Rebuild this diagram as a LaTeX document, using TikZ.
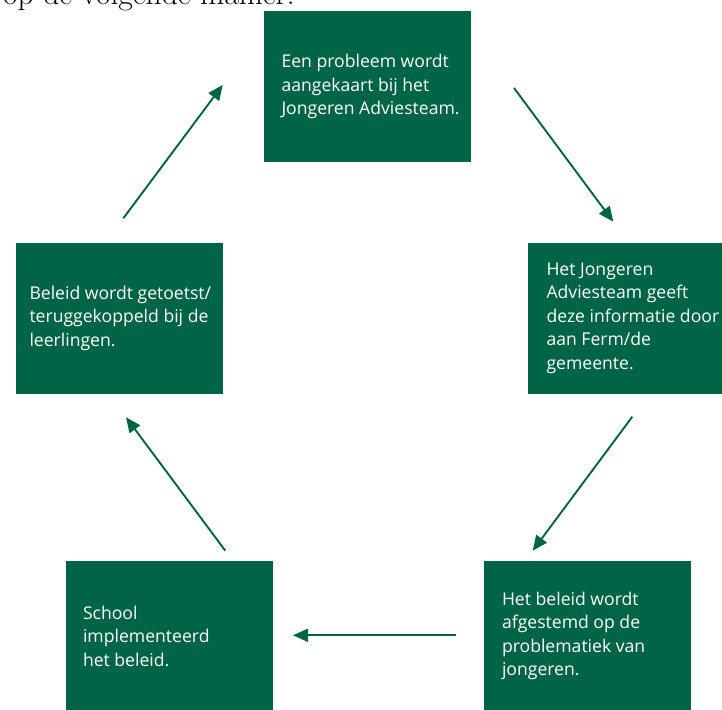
\documentclass[tikz,border=0pt]{standalone}
\usepackage{fontspec}
\newfontfamily\stapfont{Open Sans}
\usetikzlibrary{arrows.meta}
\definecolor{groen}{HTML}{006446}
\tikzset{
  stap/.style={fill=groen,minimum width=207pt,minimum height=151pt,inner sep=0pt},
  staptekst/.style={anchor=west,align=left,text=white,inner sep=0pt,font=\stapfont\fontsize{17.6}{23.5}\selectfont},
  pijl/.style={draw=groen,line width=1.9pt,-{Triangle[length=15pt,width=13pt]}}
}
\begin{document}
\begin{tikzpicture}[x=1pt,y=-1pt]
\useasboundingbox (0,0) rectangle (722,709);
\node[anchor=base west,inner sep=0pt,font=\fontsize{31.5}{35}\selectfont] (intro) at (3,4.5) {op de volgende manier.};
% de vijf stappen
\node[stap] (melding) at (367,86.5) {};
\node[staptekst] (melding-tekst) at ([xshift=18pt]melding.west) {Een probleem wordt\\aangekaart bij het\\Jongeren Adviesteam.};
\node[stap] (doorgeven) at (631.5,318) {};
\node[staptekst] (doorgeven-tekst) at ([xshift=18.5pt]doorgeven.west) {Het Jongeren\\Adviesteam geeft\\deze informatie door\\aan Ferm/de\\gemeente.};
\node[stap] (afstemmen) at (587.5,636) {};
\node[staptekst] (afstemmen-tekst) at ([xshift=18pt]afstemmen.west) {Het beleid wordt\\afgestemd op de\\problematiek van\\jongeren.};
\node[stap] (invoeren) at (169.5,636) {};
\node[staptekst] (invoeren-tekst) at ([xshift=17pt]invoeren.west) {School\\implementeerd\\het beleid.};
\node[stap] (toetsen) at (119,318) {};
\node[staptekst] (toetsen-tekst) at ([xshift=14pt]toetsen.west) {Beleid wordt getoetst/\\teruggekoppeld bij de\\leerlingen.};
% pijlen
\coordinate (p1a) at (514,88);
\coordinate (p1b) at (613.3,221.7);
\coordinate (p2a) at (632.3,416.7);
\coordinate (p2b) at (532.7,550.7);
\coordinate (p3a) at (456,635.3);
\coordinate (p3b) at (293,635.3);
\coordinate (p4a) at (225.3,550.7);
\coordinate (p4b) at (126,417.3);
\coordinate (p5a) at (123.3,218.3);
\coordinate (p5b) at (222.7,85);
\draw[pijl] (p1a) -- (p1b);
\draw[pijl] (p2a) -- (p2b);
\draw[pijl] (p3a) -- (p3b);
\draw[pijl] (p4a) -- (p4b);
\draw[pijl] (p5a) -- (p5b);
\end{tikzpicture}
\end{document}
